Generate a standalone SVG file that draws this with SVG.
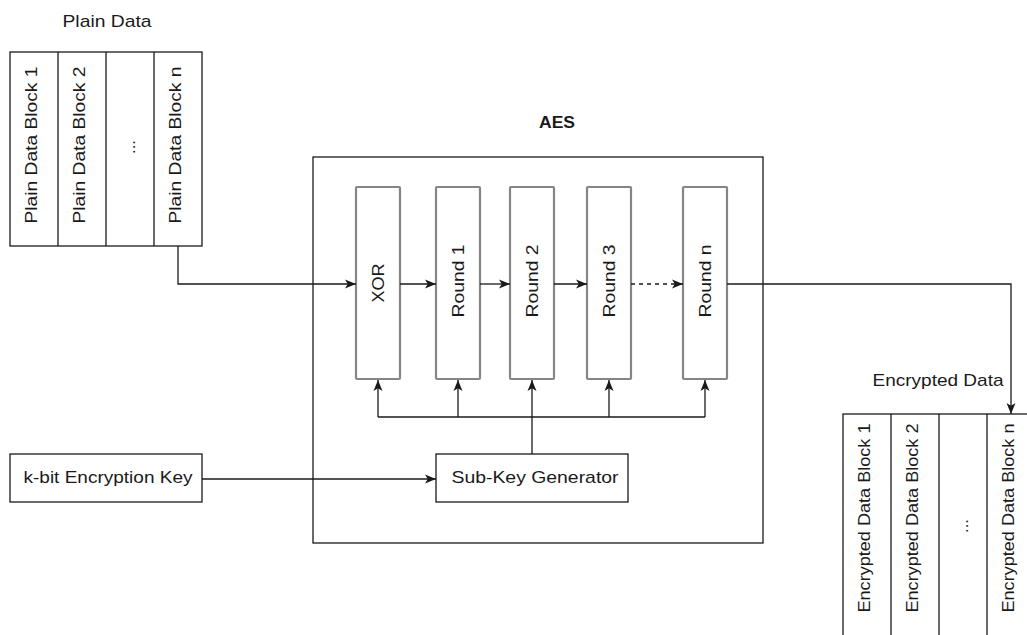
<svg xmlns="http://www.w3.org/2000/svg" width="1027" height="635" viewBox="0 0 1027 635">
  <style>
    .box { fill: #ffffff; stroke: #1a1a1a; stroke-width: 1.3; }
    .stage { fill: #ffffff; stroke: #858585; stroke-width: 2.2; }
    .lbl { font-family: "Liberation Sans", Arial, sans-serif; font-size: 17px; fill: #1a1a1a; }
    .vlbl { font-family: "Liberation Sans", Arial, sans-serif; font-size: 16.5px; fill: #1a1a1a; text-anchor: middle; }
    .title { font-family: "Liberation Sans", Arial, sans-serif; font-size: 16px; font-weight: bold; fill: #1a1a1a; text-anchor: middle; }
    .edge { fill: none; stroke: #1a1a1a; stroke-width: 1.3; }
    .dashed { stroke-dasharray: 4 4; }
  </style>
  <defs>
    <marker id="arrow" viewBox="0 0 11 10" refX="11" refY="5" markerWidth="11" markerHeight="10" markerUnits="userSpaceOnUse" orient="auto">
      <path d="M0,0.5 L11,5 L0,9.5 L2.8,5 Z" fill="#1a1a1a"/>
    </marker>
  </defs>

  <!-- Plain data blocks -->
  <g id="plain-data">
    <text class="lbl" x="107" y="27" text-anchor="middle" textLength="89" lengthAdjust="spacingAndGlyphs">Plain Data</text>
    <rect class="box" x="10" y="52" width="192" height="194"/>
    <line class="box" x1="58" y1="52" x2="58" y2="246"/>
    <line class="box" x1="106" y1="52" x2="106" y2="246"/>
    <line class="box" x1="154" y1="52" x2="154" y2="246"/>
    <text class="vlbl" transform="translate(37,145) rotate(-90)" textLength="157" lengthAdjust="spacingAndGlyphs">Plain Data Block 1</text>
    <text class="vlbl" transform="translate(85,145) rotate(-90)" textLength="157" lengthAdjust="spacingAndGlyphs">Plain Data Block 2</text>
    <text class="vlbl" transform="translate(135,147) rotate(-90)">...</text>
    <text class="vlbl" transform="translate(181,145) rotate(-90)" textLength="157" lengthAdjust="spacingAndGlyphs">Plain Data Block n</text>
  </g>

  <!-- AES container -->
  <g id="aes">
    <text class="title" x="557" y="128" textLength="36" lengthAdjust="spacingAndGlyphs">AES</text>
    <rect class="box" x="313" y="157" width="450" height="386"/>
  </g>

  <g id="xor">
    <rect class="stage" x="356" y="187" width="44" height="192" rx="1"/>
    <text class="vlbl" transform="translate(384,283) rotate(-90)" textLength="39" lengthAdjust="spacingAndGlyphs">XOR</text>
  </g>
  <g id="round-1">
    <rect class="stage" x="436" y="187" width="44" height="192" rx="1"/>
    <text class="vlbl" transform="translate(464,281) rotate(-90)" textLength="73" lengthAdjust="spacingAndGlyphs">Round 1</text>
  </g>
  <g id="round-2">
    <rect class="stage" x="510" y="187" width="44" height="192" rx="1"/>
    <text class="vlbl" transform="translate(538,281) rotate(-90)" textLength="73" lengthAdjust="spacingAndGlyphs">Round 2</text>
  </g>
  <g id="round-3">
    <rect class="stage" x="587" y="187" width="44" height="192" rx="1"/>
    <text class="vlbl" transform="translate(615,281) rotate(-90)" textLength="73" lengthAdjust="spacingAndGlyphs">Round 3</text>
  </g>
  <g id="round-n">
    <rect class="stage" x="683" y="187" width="44" height="192" rx="1"/>
    <text class="vlbl" transform="translate(711,281) rotate(-90)" textLength="73" lengthAdjust="spacingAndGlyphs">Round n</text>
  </g>

  <g id="encryption-key">
    <rect class="box" x="10" y="454" width="192" height="48"/>
    <text class="lbl" x="108" y="483" text-anchor="middle" textLength="169" lengthAdjust="spacingAndGlyphs">k-bit Encryption Key</text>
  </g>

  <g id="sub-key-generator">
    <rect class="box" x="436" y="454" width="192" height="48"/>
    <text class="lbl" x="535" y="483" text-anchor="middle" textLength="167" lengthAdjust="spacingAndGlyphs">Sub-Key Generator</text>
  </g>

  <!-- Encrypted data blocks -->
  <g id="encrypted-data">
    <text class="lbl" x="938" y="386" text-anchor="middle" textLength="131" lengthAdjust="spacingAndGlyphs">Encrypted Data</text>
    <rect class="box" x="843" y="414" width="192" height="230"/>
    <line class="box" x1="891" y1="414" x2="891" y2="644"/>
    <line class="box" x1="939" y1="414" x2="939" y2="644"/>
    <line class="box" x1="987" y1="414" x2="987" y2="644"/>
    <text class="vlbl" transform="translate(870,518) rotate(-90)" textLength="189" lengthAdjust="spacingAndGlyphs">Encrypted Data Block 1</text>
    <text class="vlbl" transform="translate(918,518) rotate(-90)" textLength="189" lengthAdjust="spacingAndGlyphs">Encrypted Data Block 2</text>
    <text class="vlbl" transform="translate(968,526) rotate(-90)">...</text>
    <text class="vlbl" transform="translate(1014,518) rotate(-90)" textLength="189" lengthAdjust="spacingAndGlyphs">Encrypted Data Block n</text>
  </g>

  <!-- Connectors -->
  <g id="connectors">
    <path class="edge" d="M178,246 V284 H356" marker-end="url(#arrow)"/>
    <path class="edge" d="M400,284 H436" marker-end="url(#arrow)"/>
    <path class="edge" d="M480,284 H510" marker-end="url(#arrow)"/>
    <path class="edge" d="M554,284 H587" marker-end="url(#arrow)"/>
    <path class="edge dashed" d="M631,284 H683" marker-end="url(#arrow)"/>
    <path class="edge" d="M727,284 H1011 V414" marker-end="url(#arrow)"/>
    <path class="edge" d="M202,479 H436" marker-end="url(#arrow)"/>
    <path class="edge" d="M532,454 V417"/>
    <path class="edge" d="M378,417 H705"/>
    <path class="edge" d="M378,417 V380" marker-end="url(#arrow)"/>
    <path class="edge" d="M458,417 V380" marker-end="url(#arrow)"/>
    <path class="edge" d="M532,417 V380" marker-end="url(#arrow)"/>
    <path class="edge" d="M609,417 V380" marker-end="url(#arrow)"/>
    <path class="edge" d="M705,417 V380" marker-end="url(#arrow)"/>
  </g>
</svg>
